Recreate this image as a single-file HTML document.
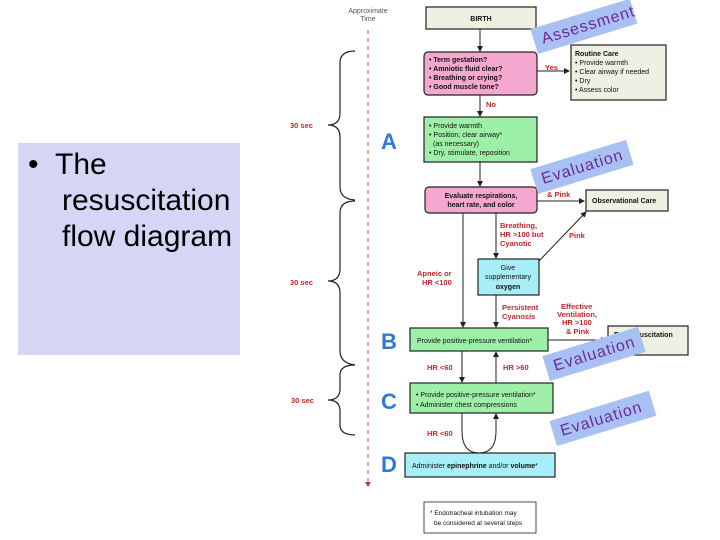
<!DOCTYPE html>
<html><head><style>
body{margin:0;width:720px;height:540px;background:#fff;overflow:hidden;position:relative;font-family:"Liberation Sans",sans-serif}
.lb{position:absolute;left:18px;top:143px;width:222px;height:212px;background:#d5d5f5}
.lb div{position:absolute;font-size:30px;line-height:36px;color:#000;white-space:nowrap}
.tag{position:absolute;background:#a9c1f2;color:#6a2a9a;font-size:16px;letter-spacing:1px;height:26px;line-height:28px;padding:0 10px 0 8px;transform-origin:left bottom;transform:rotate(-17deg)}
</style></head><body>
<div class="lb"><div style="left:10px;top:4px">•</div><div style="left:37px;top:4px">The</div><div style="left:44px;top:40px">resuscitation</div><div style="left:44px;top:76px">flow diagram</div></div>
<svg width="720" height="540" style="position:absolute;left:0;top:0" font-family="Liberation Sans, sans-serif">
<defs><marker id="a" markerWidth="6" markerHeight="6" refX="5" refY="3" orient="auto"><path d="M0,0L6,3L0,6z" fill="#222"/></marker></defs>
<text x="368" y="13" font-size="7" text-anchor="middle" fill="#555">Approximate</text>
<text x="368" y="21" font-size="7" text-anchor="middle" fill="#555">Time</text>
<line x1="368" y1="30" x2="368" y2="484" stroke="#e08aa0" stroke-width="1.5" stroke-dasharray="4,4"/>
<path d="M365,482l3,5l3,-5z" fill="#c03050"/>
<g fill="none" stroke="#222" stroke-width="1.2">
<path d="M355,51 q-15,0 -15,12 v50 q0,12 -12,12 q12,0 12,12 v50 q0,12 15,13"/>
<path d="M355,201 q-15,0 -15,12 v56 q0,12 -12,12 q12,0 12,12 v58 q0,12 15,14"/>
<path d="M355,365 q-15,0 -15,10 v14 q0,11 -12,11 q12,0 12,11 v14 q0,10 15,10"/>
</g>
<g font-size="7.5" font-weight="bold" fill="#c0282c">
<text x="290" y="128">30 sec</text><text x="290" y="285">30 sec</text><text x="291" y="403">30 sec</text>
<text x="545" y="70">Yes</text><text x="486" y="107">No</text>
<text x="500" y="228">Breathing,</text><text x="500" y="237">HR &gt;100 but</text><text x="500" y="246">Cyanotic</text>
<text x="569" y="238">Pink</text>
<text x="417" y="276">Apneic or</text><text x="422" y="285">HR &lt;100</text>
<text x="502" y="310">Persistent</text><text x="502" y="319">Cyanosis</text>
<text x="561" y="309">Effective</text><text x="557" y="317">Ventilation,</text><text x="562" y="325">HR &gt;100</text><text x="566" y="334">&amp; Pink</text>
<text x="547" y="197">&amp; Pink</text>
<text x="427" y="370">HR &lt;60</text><text x="503" y="370">HR &gt;60</text><text x="427" y="436">HR &lt;60</text>
</g>
<g font-size="22" font-weight="bold" fill="#2e7bd6">
<text x="381" y="149">A</text><text x="381" y="349">B</text><text x="381" y="409">C</text><text x="381" y="472">D</text>
</g>
<g stroke="#222" stroke-width="1.2">
<rect x="426" y="7" width="110" height="22" fill="#eef0e4"/>
<rect x="424" y="52" width="113" height="43" rx="4" fill="#f4a8d0"/>
<rect x="571" y="45" width="95" height="55" fill="#eef0e4"/>
<rect x="424" y="117" width="113" height="45" fill="#9ef0a8"/>
<rect x="425" y="187" width="112" height="26" rx="4" fill="#f4a8d0"/>
<rect x="586" y="190" width="82" height="21" fill="#eef0e4"/>
<rect x="478" y="259" width="61" height="36" fill="#a8eef6"/>
<rect x="410" y="328" width="138" height="23" fill="#9ef0a8"/>
<rect x="608" y="326" width="80" height="29" fill="#eef0e4"/>
<rect x="410" y="383" width="143" height="30" fill="#9ef0a8"/>
<rect x="405" y="453" width="150" height="24" fill="#a8eef6"/>
<rect x="424" y="502" width="112" height="31" fill="#fff" stroke-width="0.8"/>
</g>
<g stroke="#222" stroke-width="1" fill="none" marker-end="url(#a)">
<line x1="480" y1="29" x2="480" y2="51"/>
<line x1="480" y1="95" x2="480" y2="116"/>
<line x1="537" y1="71" x2="569" y2="71"/>
<line x1="480" y1="162" x2="480" y2="186"/>
<line x1="537" y1="201" x2="584" y2="201"/>
<line x1="496" y1="213" x2="496" y2="258"/>
<line x1="539" y1="261" x2="586" y2="212"/>
<line x1="463" y1="213" x2="463" y2="327"/>
<line x1="496" y1="295" x2="496" y2="327"/>
<line x1="548" y1="340" x2="606" y2="340"/>
<line x1="462" y1="351" x2="462" y2="382"/>
<line x1="496" y1="383" x2="496" y2="352"/>
<path d="M462,413 v18 q0,22 17,22 q17,0 17,-22 v-17"/>
</g>
<g font-size="7" fill="#111">
<text x="481" y="21" text-anchor="middle" font-weight="bold">BIRTH</text>
<text x="429" y="62" font-weight="bold">• Term gestation?</text>
<text x="429" y="71" font-weight="bold">• Amniotic fluid clear?</text>
<text x="429" y="80" font-weight="bold">• Breathing or crying?</text>
<text x="429" y="89" font-weight="bold">• Good muscle tone?</text>
<text x="575" y="56" font-weight="bold">Routine Care</text>
<text x="575" y="65">• Provide warmth</text><text x="575" y="74">• Clear airway if needed</text>
<text x="575" y="83">• Dry</text><text x="575" y="92">• Assess color</text>
<text x="429" y="128">• Provide warmth</text><text x="429" y="137">• Position; clear airway*</text>
<text x="433" y="146">(as necessary)</text><text x="429" y="155">• Dry, stimulate, reposition</text>
<text x="481" y="198" text-anchor="middle" font-weight="bold">Evaluate respirations,</text>
<text x="481" y="207" text-anchor="middle" font-weight="bold">heart rate, and color</text>
<text x="592" y="203" font-weight="bold">Observational Care</text>
<text x="508" y="270" text-anchor="middle">Give</text><text x="508" y="279" text-anchor="middle">supplementary</text>
<text x="508" y="289" text-anchor="middle" font-weight="bold">oxygen</text>
<text x="417" y="343">Provide positive-pressure ventilation*</text>
<text x="614" y="337" font-weight="bold">Postresuscitation</text>
<text x="416" y="397">• Provide positive-pressure ventilation*</text>
<text x="416" y="407">• Administer chest compressions</text>
<text x="412" y="468">Administer <tspan font-weight="bold">epinephrine</tspan> and/or <tspan font-weight="bold">volume</tspan>*</text>
<text x="430" y="515" font-size="6.5">* Endotracheal intubation may</text>
<text x="434" y="525" font-size="6.5">be considered at several steps</text>
</g>
</svg>
<div class="tag" style="left:538px;top:28px;width:86px">Assessment</div>
<div class="tag" style="left:538px;top:168px;width:82px">Evaluation</div>
<div class="tag" style="left:550px;top:355px;width:82px">Evaluation</div>
<div class="tag" style="left:557px;top:420px;width:86px">Evaluation</div>
</body></html>
